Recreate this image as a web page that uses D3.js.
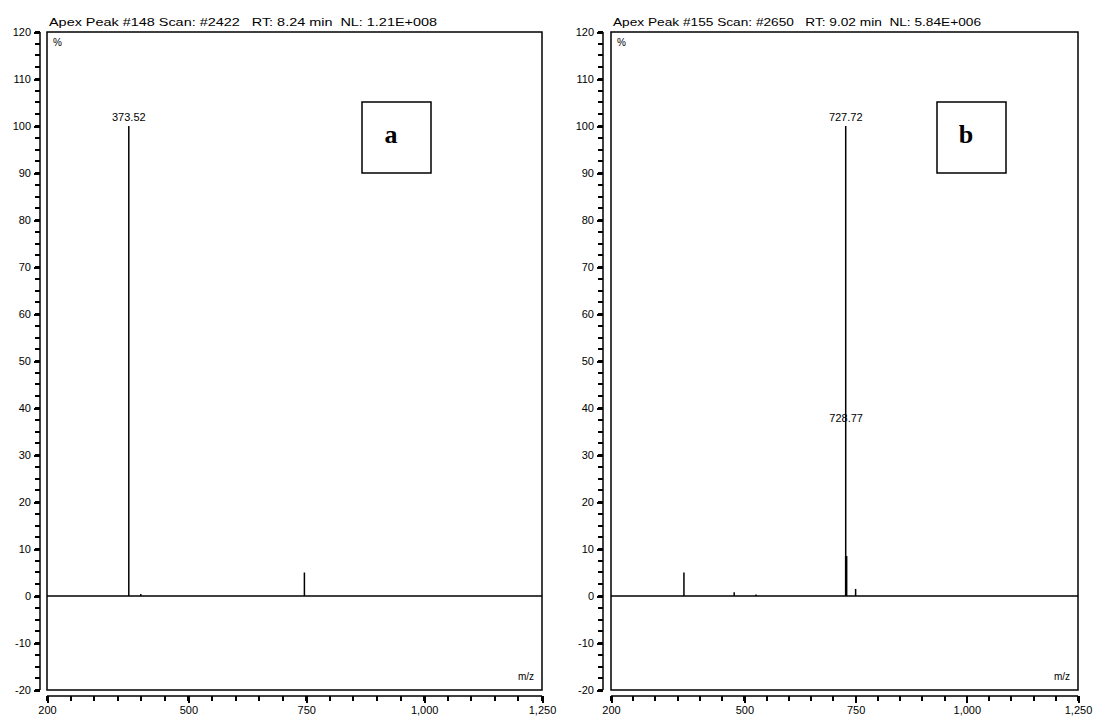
<!DOCTYPE html>
<html>
<head>
<meta charset="utf-8">
<script src="https://cdn.jsdelivr.net/npm/d3@7"></script>
<style>
  html, body { margin: 0; padding: 0; background: #fff; }
  svg { display: block; }
  text { font-family: "Liberation Sans", Arial, sans-serif; fill: #000; white-space: pre; }
  line.minor, .tick line { shape-rendering: crispEdges; }
</style>
</head>
<body>
<svg id="chart" width="1094" height="720"></svg>
<script>
// Spectrum a: ions and relative abundance (%)
const mzA = [373.52, 399.0, 746.0];
const abundA = [100, 0.4, 5];
const labelledA = ["373.52"];
const headerA = "Apex Peak #148 Scan: #2422   RT: 8.24 min  NL: 1.21E+008";

// Spectrum b
const mzB = [364.0, 477.0, 526.0, 727.72, 728.77, 750.0];
const abundB = [5, 0.8, 0.3, 100, 8.5, 1.5];
const labelledB = ["727.72", "728.77"];
const headerB = "Apex Peak #155 Scan: #2650   RT: 9.02 min  NL: 5.84E+006";
// the 728.77 annotation sits higher so it clears the base peak line
const labelLevelB = [100, 36];

// Shared axes
const mzDomain = [200, 1250];
const mzTicks = [200, 500, 750, 1000, 1250];
const mzMinorStep = 50;
const pctDomain = [-20, 120];
const pctTicks = [-20, -10, 0, 10, 20, 30, 40, 50, 60, 70, 80, 90, 100, 110, 120];
const pctMinorStep = 2.5;

const svg = d3.select("#chart");
const fmt = d3.format(",");
const plain = d => String(d);

function drawPanel(opt) {
  const g = svg.append("g");
  const x = d3.scaleLinear().domain(mzDomain).range([opt.left, opt.right]);
  const y = d3.scaleLinear().domain(pctDomain).range([opt.bottom, opt.top]);

  // frame
  g.append("rect")
    .attr("x", opt.left).attr("y", opt.top)
    .attr("width", opt.right - opt.left).attr("height", opt.bottom - opt.top)
    .attr("fill", "none").attr("stroke", "#000").attr("stroke-width", 1.5);

  // y axis, set off to the left of the frame
  const yMinor = d3.range(pctDomain[0], pctDomain[1] + 0.01, pctMinorStep);
  const yG = g.append("g").attr("transform", `translate(${opt.axisX},0)`);
  yG.selectAll("line.minor").data(yMinor).join("line").attr("class", "minor")
    .attr("x1", -5).attr("x2", 0)
    .attr("y1", d => Math.round(y(d))).attr("y2", d => Math.round(y(d)))
    .attr("stroke", "#000").attr("stroke-width", 2);
  yG.append("line").attr("x1", 0).attr("x2", 0)
    .attr("y1", y(pctDomain[1])).attr("y2", y(pctDomain[0]))
    .attr("stroke", "#000").attr("stroke-width", 1.5);
  const yMajor = g.append("g").attr("transform", `translate(${opt.axisX},0)`)
    .call(d3.axisLeft(y).tickValues(pctTicks).tickSize(6).tickPadding(3).tickFormat(plain));
  yMajor.select(".domain").remove();
  yMajor.selectAll("text").style("font-size", "11px");

  // x axis below the frame
  const xMinor = d3.range(mzDomain[0], mzDomain[1] + 0.01, mzMinorStep);
  const xG = g.append("g").attr("transform", `translate(0,${opt.bottom + 6})`);
  xG.selectAll("line.minor").data(xMinor).join("line").attr("class", "minor")
    .attr("x1", d => Math.round(x(d))).attr("x2", d => Math.round(x(d)))
    .attr("y1", 0).attr("y2", 5)
    .attr("stroke", "#000").attr("stroke-width", 2);
  xG.append("line").attr("x1", x(mzDomain[0])).attr("x2", x(mzDomain[1]))
    .attr("y1", 0).attr("y2", 0).attr("stroke", "#000").attr("stroke-width", 1.5);
  const xMajor = g.append("g").attr("transform", `translate(0,${opt.bottom + 6})`)
    .call(d3.axisBottom(x).tickValues(mzTicks).tickSize(7).tickPadding(3).tickFormat(fmt));
  xMajor.select(".domain").remove();
  xMajor.selectAll("text").style("font-size", "11px");
  g.selectAll(".tick line").attr("stroke", "#000").attr("stroke-width", 2);

  // zero baseline
  g.append("line")
    .attr("x1", opt.left).attr("x2", opt.right)
    .attr("y1", y(0)).attr("y2", y(0))
    .attr("stroke", "#000").attr("stroke-width", 1.5);

  // peaks as sticks
  g.selectAll("line.peak").data(opt.mz.map((m, i) => ({ m, a: opt.abund[i] })))
    .join("line").attr("class", "peak")
    .attr("x1", d => x(d.m)).attr("x2", d => x(d.m))
    .attr("y1", y(0)).attr("y2", d => y(d.a))
    .attr("stroke", "#000")
    .attr("stroke-width", d => d.a > 5 && d.a < 50 ? 2.5 : 1.5);

  // peak annotations
  opt.labels.forEach((lab, i) => {
    const m = +lab;
    const idx = opt.mz.indexOf(m);
    const level = opt.labelLevel ? opt.labelLevel[i] : opt.abund[idx];
    g.append("text")
      .attr("x", x(m)).attr("y", y(level) - 5)
      .attr("text-anchor", "middle")
      .style("font-size", "11px")
      .text(lab);
  });

  // header line
  g.append("text")
    .attr("x", opt.left + 2).attr("y", opt.top - 6)
    .attr("textLength", opt.headerWidth).attr("lengthAdjust", "spacingAndGlyphs")
    .style("font-size", "11px")
    .text(opt.header);

  // unit markers inside the frame
  g.append("text").attr("x", opt.left + 6).attr("y", opt.top + 14)
    .style("font-size", "10px").text("%");
  g.append("text").attr("x", opt.right - 8).attr("y", opt.bottom - 10)
    .attr("text-anchor", "end").style("font-size", "10px").text("m/z");

  // panel letter
  g.append("rect")
    .attr("x", opt.tagX).attr("y", 102).attr("width", 69).attr("height", 71)
    .attr("fill", "#fff").attr("stroke", "#000").attr("stroke-width", 1.5);
  g.append("text")
    .attr("x", opt.tagX + 29).attr("y", 143)
    .attr("text-anchor", "middle")
    .style("font-family", "Liberation Serif, Times New Roman, serif")
    .style("font-weight", "bold").style("font-size", "26px")
    .text(opt.tag);
}

drawPanel({
  left: 47, right: 542, top: 32, bottom: 690, axisX: 40,
  mz: mzA, abund: abundA, labels: labelledA, header: headerA, headerWidth: 388,
  tag: "a", tagX: 362
});

drawPanel({
  left: 611, right: 1078, top: 32, bottom: 690, axisX: 603,
  mz: mzB, abund: abundB, labels: labelledB, labelLevel: labelLevelB,
  header: headerB, headerWidth: 368,
  tag: "b", tagX: 937
});
</script>
</body>
</html>
